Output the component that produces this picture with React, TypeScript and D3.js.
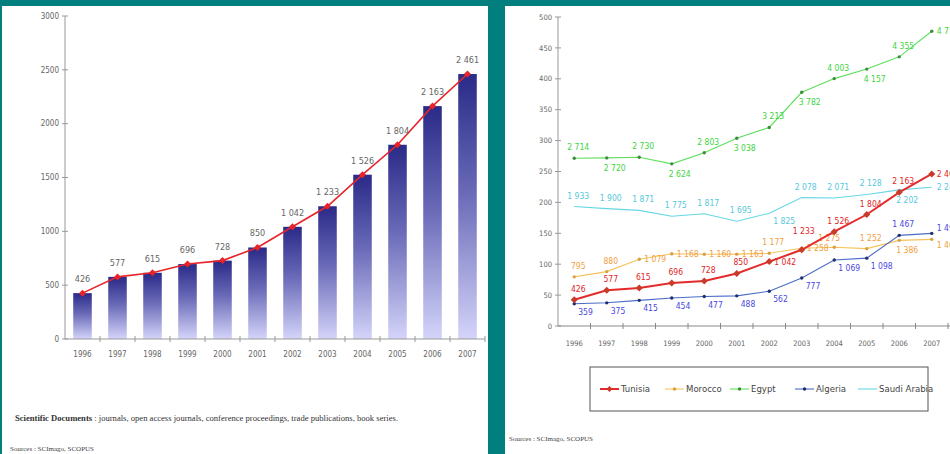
import React from "react";
import * as d3 from "d3";

// Publication years shared by both charts
const years = ["1996", "1997", "1998", "1999", "2000", "2001", "2002", "2003", "2004", "2005", "2006", "2007"];

// Scientific documents per year
const tunisia = [426, 577, 615, 696, 728, 850, 1042, 1233, 1526, 1804, 2163, 2461];
const morocco = [795, 880, 1079, 1168, 1160, 1163, 1177, 1258, 1275, 1252, 1386, 1402];
const egypt = [2714, 2720, 2730, 2624, 2803, 3038, 3213, 3782, 4003, 4157, 4355, 4770];
const algeria = [359, 375, 415, 454, 477, 488, 562, 777, 1069, 1098, 1467, 1498];
const saudiArabia = [1933, 1900, 1871, 1775, 1817, 1695, 1825, 2078, 2071, 2128, 2202, 2245];

// Axis ticks
const leftTicks = [0, 500, 1000, 1500, 2000, 2500, 3000];
const rightTicks = [0, 500, 1000, 1500, 2000, 2500, 3000, 3500, 4000, 4500, 5000];
const rightTickLabels = ["0", "50", "100", "150", "200", "250", "300", "350", "400", "450", "500"];

const countries = ["Tunisia", "Morocco", "Egypt", "Algeria", "Saudi Arabia"];

const NARROW = "'DejaVu Sans Condensed', 'DejaVu Sans', sans-serif";
const fmt = (v: number) => d3.format(",")(v).replace(/,/g, " ");

type Place = "a" | "b" | "r" | "br" | "ar" | "aa" | "ru" | "rd";

interface Series {
  name: string;
  values: number[];
  line: string;
  text: string;
  width: number;
  marker: "diamond" | "dot" | "none";
  markerColor: string;
  places: Place[];
}

const series: Series[] = [
  {
    name: countries[4], values: saudiArabia, line: "#66d6e6", text: "#55c8dc", width: 1.1,
    marker: "none", markerColor: "#66d6e6",
    places: ["a", "a", "a", "a", "a", "a", "br", "a", "a", "a", "b", "r"],
  },
  {
    name: countries[1], values: morocco, line: "#f6c35a", text: "#f0a040", width: 1.1,
    marker: "dot", markerColor: "#d8a040",
    places: ["a", "a", "r", "r", "r", "r", "a", "r", "ar", "a", "b", "rd"],
  },
  {
    name: countries[2], values: egypt, line: "#5ee05e", text: "#3ed43e", width: 1.1,
    marker: "dot", markerColor: "#3c8c3c",
    places: ["a", "b", "a", "b", "a", "b", "a", "b", "a", "b", "a", "r"],
  },
  {
    name: countries[3], values: algeria, line: "#4a6cc8", text: "#4848e0", width: 1.1,
    marker: "dot", markerColor: "#1e2e6e",
    places: ["br", "br", "br", "br", "br", "br", "br", "br", "br", "br", "a", "ru"],
  },
  {
    name: countries[0], values: tunisia, line: "#e42a2a", text: "#e02424", width: 2,
    marker: "diamond", markerColor: "#c83a2a",
    places: ["a", "a", "a", "a", "a", "a", "r", "aa", "a", "a", "a", "r"],
  },
];

function Marker({ kind, x, y, color, size = 3 }: { kind: string; x: number; y: number; color: string; size?: number }) {
  if (kind === "diamond") {
    return <path d={`M${x},${y - size}L${x + size},${y}L${x},${y + size}L${x - size},${y}Z`} fill={color} />;
  }
  if (kind === "dot") return <circle cx={x} cy={y} r={1.7} fill={color} />;
  return null;
}

function LeftChart() {
  const x = d3.scaleBand<string>().domain(years).range([65, 485]);
  const y = d3.scaleLinear().domain([0, 3000]).range([339, 16]);
  const bw = x.bandwidth() * 0.53;
  const cx = (yr: string) => (x(yr) as number) + x.bandwidth() / 2;
  const line = d3
    .line<number>()
    .x((_, i) => cx(years[i]))
    .y((v) => y(v));

  return (
    <g>
      <defs>
        <linearGradient id="barGrad" x1="0" y1="0" x2="0" y2="1">
          <stop offset="0" stopColor="#2a2a88" />
          <stop offset="0.45" stopColor="#6a6ab8" />
          <stop offset="1" stopColor="#d4d4fa" />
        </linearGradient>
      </defs>
      {/* y axis */}
      <line x1={65} x2={65} y1={y(3000)} y2={y(0)} stroke="#999" strokeWidth={1} />
      {leftTicks.map((t) => (
        <g key={t}>
          <line x1={62} x2={68} y1={y(t)} y2={y(t)} stroke="#999" />
          <text x={59} y={y(t)} dy="0.35em" textAnchor="end" fontSize={8} fill="#666" fontFamily={NARROW} fontStretch="condensed">
            {t}
          </text>
        </g>
      ))}
      {/* bars */}
      {tunisia.map((v, i) => (
        <rect
          key={years[i]}
          x={cx(years[i]) - bw / 2}
          y={y(v)}
          width={bw}
          height={y(0) - y(v)}
          fill="url(#barGrad)"
        />
      ))}
      {/* x axis */}
      <line x1={65} x2={485} y1={y(0)} y2={y(0)} stroke="#999" />
      {years.map((yr) => (
        <g key={yr}>
          <line x1={(x(yr) as number) + x.bandwidth()} x2={(x(yr) as number) + x.bandwidth()} y1={y(0) - 3} y2={y(0) + 3} stroke="#999" />
          <text x={cx(yr)} y={357} textAnchor="middle" fontSize={8} fill="#666" fontFamily={NARROW} fontStretch="condensed">
            {yr}
          </text>
        </g>
      ))}
      {/* trend line */}
      <path d={line(tunisia) as string} fill="none" stroke="#e8242a" strokeWidth={1.6} />
      {tunisia.map((v, i) => (
        <g key={"m" + i}>
          <Marker kind="diamond" x={cx(years[i])} y={y(v)} color="#e8242a" size={3.5} />
          <text x={cx(years[i])} y={y(v) - 11} textAnchor="middle" fontSize={9} fill="#666" fontFamily={NARROW} fontStretch="condensed">
            {fmt(v)}
          </text>
        </g>
      ))}
      {/* notes */}
      <text x={15} y={421} fontSize={8.6} fill="#333" fontFamily="'Liberation Serif', serif">
        <tspan fontWeight="bold">Scientific Documents</tspan>
        <tspan> : journals, open access journals, conference proceedings, trade publications, book series.</tspan>
      </text>
      <text x={10} y={451} fontSize={7} fill="#444" fontFamily="'Liberation Serif', serif">
        Sources :     SCImago, SCOPUS
      </text>
    </g>
  );
}

function RightChart() {
  const x = d3.scaleBand<string>().domain(years).range([558, 948]);
  const y = d3.scaleLinear().domain([0, 5000]).range([326, 17]);
  const cx = (i: number) => (x(years[i]) as number) + x.bandwidth() / 2;
  const line = d3
    .line<number>()
    .x((_, i) => cx(i))
    .y((v) => y(v));

  const labelPos = (p: Place, px: number, py: number) => {
    switch (p) {
      case "a":
        return { x: px + 4, y: py - 8, anchor: "middle" };
      case "aa":
        return { x: px + 2, y: py - 16, anchor: "middle" };
      case "b":
        return { x: px + 8, y: py + 13, anchor: "middle" };
      case "r":
        return { x: px + 5, y: py + 3, anchor: "start" };
      case "ru":
        return { x: px + 5, y: py - 2, anchor: "start" };
      case "rd":
        return { x: px + 5, y: py + 9, anchor: "start" };
      case "br":
        return { x: px + 4, y: py + 11, anchor: "start" };
      case "ar":
        return { x: px - 16, y: py - 6, anchor: "start" };
    }
  };

  const legendX = [600, 665, 730, 795, 858];
  const legendOrder = [4, 1, 2, 3, 0];

  return (
    <g>
      {/* y axis */}
      <line x1={558} x2={558} y1={y(5000)} y2={y(0)} stroke="#999" />
      {rightTicks.map((t, i) => (
        <g key={t}>
          <line x1={555} x2={561} y1={y(t)} y2={y(t)} stroke="#999" />
          <text x={552} y={y(t)} dy="0.35em" textAnchor="end" fontSize={7.5} fill="#666" fontFamily={NARROW} fontStretch="condensed">
            {rightTickLabels[i]}
          </text>
        </g>
      ))}
      {/* x axis */}
      <line x1={558} x2={950} y1={y(0)} y2={y(0)} stroke="#888" />
      {years.map((yr, i) => (
        <g key={yr}>
          <line x1={(x(yr) as number) + x.bandwidth()} x2={(x(yr) as number) + x.bandwidth()} y1={y(0) - 3} y2={y(0) + 3} stroke="#888" />
          <text x={cx(i)} y={346} textAnchor="middle" fontSize={7.5} fill="#666" fontFamily={NARROW} fontStretch="condensed">
            {yr}
          </text>
        </g>
      ))}
      {/* series */}
      {series.map((s) => (
        <g key={s.name}>
          <path d={line(s.values) as string} fill="none" stroke={s.line} strokeWidth={s.width} />
          {s.values.map((v, i) => {
            const lp = labelPos(s.places[i], cx(i), y(v))!;
            return (
              <g key={i}>
                <Marker kind={s.marker} x={cx(i)} y={y(v)} color={s.markerColor} size={3.5} />
                <text x={lp.x} y={lp.y} textAnchor={lp.anchor as any} fontSize={8.5} fill={s.text} fontFamily={NARROW} fontStretch="condensed">
                  {fmt(v)}
                </text>
              </g>
            );
          })}
        </g>
      ))}
      {/* legend */}
      <rect x={590} y={367} width={338} height={44} fill="#fff" stroke="#555" strokeWidth={1} />
      {legendOrder.map((si, k) => {
        const s = series[si];
        const lx = legendX[k];
        return (
          <g key={s.name}>
            <line x1={lx} x2={lx + 19} y1={389} y2={389} stroke={s.line} strokeWidth={s.width} />
            <Marker kind={s.marker} x={lx + 9.5} y={389} color={s.markerColor} size={3} />
            <text x={lx + 21} y={392} fontSize={9.5} fill="#444" fontFamily={NARROW} fontStretch="condensed">
              {s.name}
            </text>
          </g>
        );
      })}
      <text x={509} y={441} fontSize={7} fill="#444" fontFamily="'Liberation Serif', serif">
        Sources :     SCImago, SCOPUS
      </text>
    </g>
  );
}

export default function App() {
  return (
    <svg
      width={950}
      height={454}
      viewBox="0 0 950 454"
      style={{ position: "absolute", left: 0, top: 0, display: "block" }}
    >
      <rect x={0} y={0} width={950} height={454} fill="#007f7e" />
      <rect x={2} y={6} width={486} height={448} fill="#fff" />
      <rect x={505} y={6} width={445} height={448} fill="#fff" />
      <LeftChart />
      <RightChart />
    </svg>
  );
}
